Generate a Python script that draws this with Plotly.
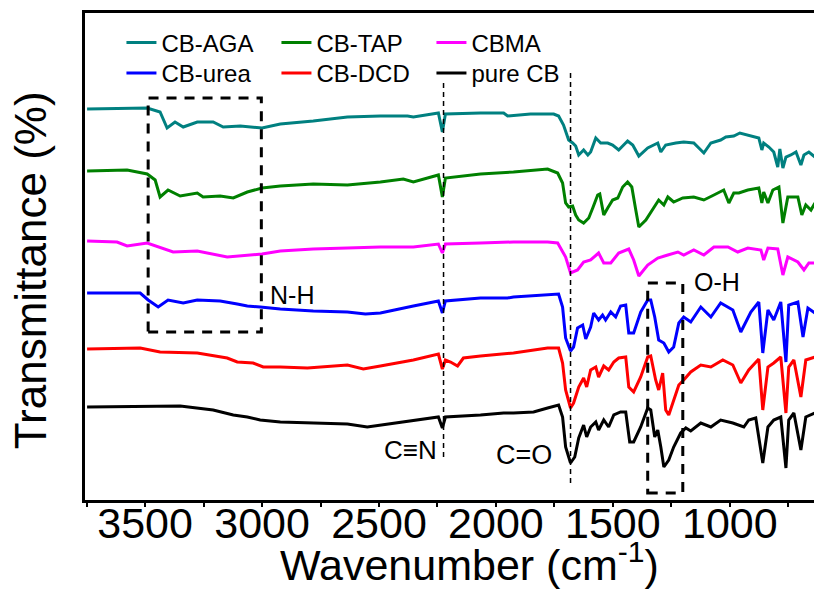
import plotly.graph_objects as go

# FTIR spectra: (wavenumber cm-1, offset transmittance a.u.)
cb_aga = [(3748,391),(3491,392),(3436,388),(3406,372),(3372,378),(3337,373),(3277,378),(3209,378),(3166,373),(3093,374),
          (3000,372),(2922,376),(2781,379),(2635,383),(2494,384),(2378,384),(2353,383),(2246,387),(2229,368),(2216,386),
          (2066,387),(1967,387),(1950,384),(1852,386),(1753,386),(1732,384),(1711,375),(1689,360),(1672,357),(1659,354),
          (1646,345),(1625,350),(1607,345),(1595,348),(1573,362),(1552,357),(1522,357),(1501,355),(1475,350),(1437,359),
          (1415,355),(1389,344),(1351,352),(1325,355),(1308,357),(1295,348),(1274,355),(1231,357),(1197,358),(1154,357),
          (1111,347),(1081,357),(1039,360),(1017,363),(983,364),(957,367),(923,365),(876,362),(863,350),(855,357),
          (833,353),(812,348),(795,333),(786,351),(773,332),(760,343),(739,345),(717,348),(696,335),(683,345),
          (662,348),(636,343)]

cb_tap = [(3748,329),(3577,330),(3491,326),(3457,320),(3436,303),(3402,310),(3350,304),(3277,307),(3252,303),(3179,304),
          (3123,302),(3063,308),(3000,312),(2922,314),(2781,316),(2635,315),(2494,318),(2396,321),(2353,318),(2246,325),
          (2229,303),(2216,322),(2066,326),(1925,328),(1779,331),(1736,327),(1715,317),(1702,297),(1689,293),(1672,294),
          (1659,285),(1646,280),(1625,277),(1603,282),(1586,292),(1565,305),(1556,306),(1539,285),(1522,292),(1501,300),
          (1479,302),(1458,313),(1437,318),(1419,313),(1402,290),(1389,273),(1359,280),(1325,292),(1304,300),(1282,295),
          (1265,303),(1240,298),(1201,302),(1154,303),(1111,300),(1068,305),(1026,310),(1004,297),(983,307),(961,307),
          (923,310),(876,312),(863,297),(855,308),(837,297),(816,310),(790,313),(773,277),(752,303),(709,303),
          (692,285),(675,295),(653,290),(636,297)]

cbma = [(3748,259),(3620,258),(3577,254),(3491,257),(3380,248),(3277,249),(3149,243),(3000,246),(2922,249),(2781,251),
        (2635,252),(2494,253),(2353,253),(2246,256),(2229,247),(2216,256),(2066,257),(1925,258),(1779,258),(1736,257),
        (1702,243),(1681,227),(1651,230),(1625,238),(1595,240),(1561,247),(1539,237),(1509,237),(1475,247),(1432,251),
        (1411,240),(1389,224),(1351,235),(1308,242),(1265,245),(1222,248),(1197,245),(1154,250),(1111,245),(1068,253),
        (1008,253),(966,248),(923,252),(867,250),(855,240),(837,252),(795,251),(773,225),(752,243),(709,238),
        (683,230),(662,237),(636,237)]

cb_urea = [(3748,207),(3521,207),(3487,200),(3444,193),(3402,200),(3337,197),(3277,200),(3179,199),(3106,196),(3063,194),
           (3008,193),(2922,191),(2781,189),(2635,188),(2558,186),(2494,187),(2353,194),(2246,199),(2229,187),(2216,199),
           (2066,202),(1950,202),(1925,203),(1779,205),(1732,206),(1715,193),(1702,162),(1681,149),(1668,153),(1651,172),
           (1629,175),(1616,161),(1595,173),(1582,187),(1561,180),(1544,185),(1531,180),(1509,188),(1488,183),(1467,194),
           (1445,195),(1432,167),(1411,167),(1381,188),(1351,200),(1338,200),(1321,183),(1304,160),(1282,157),(1261,148),
           (1240,153),(1218,177),(1197,183),(1167,178),(1124,193),(1081,183),(1039,197),(987,190),(953,168),(910,188),
           (876,198),(859,147),(837,190),(812,180),(782,198),(760,138),(748,195),(709,198),(687,163),(666,192),
           (636,187)]

cb_dcd = [(3748,151),(3521,152),(3436,148),(3277,147),(3149,142),(3106,138),(3038,137),(2995,133),(2922,133),(2806,132),
          (2635,135),(2567,131),(2494,134),(2353,140),(2246,146),(2229,131),(2216,140),(2194,138),(2164,134),(2139,142),
          (2066,144),(1925,147),(1779,152),(1732,152),(1715,137),(1702,110),(1681,92),(1668,97),(1646,113),(1625,122),
          (1612,113),(1595,130),(1573,133),(1561,123),(1539,134),(1518,130),(1496,138),(1475,142),(1445,143),(1432,113),
          (1411,108),(1381,123),(1351,143),(1338,144),(1317,120),(1304,110),(1287,127),(1274,90),(1261,85),(1240,100),
          (1218,115),(1197,120),(1167,128),(1124,135),(1081,133),(1030,140),(987,135),(953,117),(919,130),(876,141),
          (859,90),(837,133),(812,137),(782,143),(760,87),(748,133),(726,140),(696,103),(675,140),(636,143)]

pure_cb = [(3748,93),(3350,94),(3209,90),(3123,85),(3063,83),(3008,80),(2922,78),(2781,77),(2635,76),(2550,73),
           (2421,77),(2353,79),(2246,83),(2229,72),(2216,83),(2066,85),(1967,87),(1925,87),(1839,88),(1779,92),
           (1732,95),(1715,83),(1702,53),(1681,37),(1663,43),(1646,62),(1625,75),(1612,63),(1595,73),(1573,78),
           (1561,70),(1539,80),(1518,73),(1496,85),(1467,88),(1445,88),(1428,58),(1411,58),(1381,73),(1351,92),
           (1338,90),(1321,63),(1308,70),(1295,53),(1282,33),(1261,40),(1240,53),(1210,67),(1188,72),(1167,69),
           (1124,77),(1081,73),(1039,80),(987,77),(940,73),(919,80),(889,82),(859,37),(837,73),(812,80),
           (782,83),(760,32),(748,80),(726,87),(696,50),(675,83),(636,87)]

series = [
    ("CB-AGA", cb_aga, "#008080", "legend"),
    ("CB-TAP", cb_tap, "#008000", "legend"),
    ("CBMA", cbma, "#FF00FF", "legend"),
    ("CB-urea", cb_urea, "#0000FF", "legend2"),
    ("CB-DCD", cb_dcd, "#FF0000", "legend2"),
    ("pure CB", pure_cb, "#000000", "legend2"),
]

# band markers (wavenumber) and labels
cn_band = 2224
co_band = 1681
nh_box = (3487, 3003, 168, 402)
oh_box = (1351, 1201, 7, 217)
band_labels = [("C\u2261N", 2366, 50, 26), ("C=O", 1882, 45, 27), ("N-H", 2871, 205, 25), ("O-H", 1056, 218, 25)]

FONT = "Liberation Sans, Arial, sans-serif"

fig = go.Figure()
for name, pts, color, lg in series:
    fig.add_trace(go.Scatter(
        x=[p[0] for p in pts], y=[p[1] for p in pts], mode="lines", name=name,
        line=dict(color=color, width=3), legend=lg))

dash_thin = "5px,4px"
fig.add_shape(type="line", x0=cn_band, x1=cn_band, y0=43, y1=417, xref="x", yref="y",
              line=dict(color="black", width=1.5, dash=dash_thin))
fig.add_shape(type="line", x0=co_band, x1=co_band, y0=17, y1=430, xref="x", yref="y",
              line=dict(color="black", width=1.5, dash=dash_thin))
for bx in (nh_box, oh_box):
    fig.add_shape(type="rect", x0=bx[0], x1=bx[1], y0=bx[2], y1=bx[3], xref="x", yref="y",
                  line=dict(color="black", width=3, dash="10px,8px"))

for txt, xw, yv, fs in band_labels:
    fig.add_annotation(x=xw, y=yv, text=txt, showarrow=False, xref="x", yref="y",
                       font=dict(family=FONT, size=fs, color="black"))

# axis titles
fig.add_annotation(text="Wavenumber (cm<sup>-1</sup>)", xref="paper", yref="paper", x=0.528, y=-0.128,
                   xanchor="center", yanchor="middle", showarrow=False,
                   font=dict(family=FONT, size=43, color="black"))
fig.add_annotation(text="Transmittance (%)", xref="paper", yref="paper", x=-0.0754, y=0.472,
                   xanchor="center", yanchor="middle", textangle=-90, showarrow=False,
                   font=dict(family=FONT, size=44, color="black"))

leg_common = dict(orientation="h", xanchor="left", yanchor="top",
                  font=dict(family=FONT, size=24, color="black"), bgcolor="rgba(0,0,0,0)",
                  entrywidth=110, entrywidthmode="pixels", tracegroupgap=0)
fig.update_layout(
    width=814, height=594,
    margin=dict(l=85, r=0, t=13, b=94),
    paper_bgcolor="white", plot_bgcolor="white",
    font=dict(family=FONT, color="black"),
    showlegend=True,
    legend=dict(x=0.05, y=0.985, **leg_common),
    legend2=dict(x=0.05, y=0.922, **leg_common),
)

fig.update_xaxes(
    range=[3757, 640], autorange=False,
    showline=True, linecolor="black", linewidth=3, mirror=True,
    ticks="outside", ticklen=4, tickwidth=2, tickcolor="black", dtick=500, tick0=0,
    minor=dict(ticks="outside", ticklen=4, tickwidth=2, tickcolor="black", dtick=250),
    tickfont=dict(family=FONT, size=43, color="black"),
    showgrid=False, zeroline=False,
)
try:
    fig.update_xaxes(ticklabelstandoff=-21)
except Exception:
    pass
fig.update_yaxes(
    range=[0, 487], autorange=False,
    showline=True, linecolor="black", linewidth=3, mirror=False,
    showticklabels=False, ticks="", showgrid=False, zeroline=False,
)

fig.write_html("out.html")
